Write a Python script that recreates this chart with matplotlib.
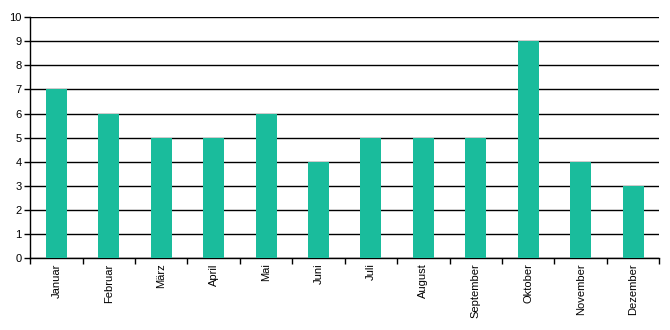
import numpy as np
import matplotlib.pyplot as plt

months = ['Januar', 'Februar', 'März', 'April', 'Mai', 'Juni', 'Juli',
          'August', 'September', 'Oktober', 'November', 'Dezember']
values = [7, 6, 5, 5, 6, 4, 5, 5, 5, 9, 4, 3]

plt.rcParams['font.family'] = ['Liberation Sans', 'DejaVu Sans']

fig = plt.figure(figsize=(6.7, 3.3), dpi=100)
ax = fig.add_axes([0.045, 0.218, 0.939, 0.730])

x = np.arange(len(months))
ax.bar(x, values, width=0.4, color='#1abc9c', zorder=3)

ax.set_xlim(-0.5, len(months) - 0.5)
ax.set_ylim(0, 10)
ax.set_yticks(range(0, 11))
ax.yaxis.grid(True, color='black', linewidth=1, zorder=1)

ax.set_xticks(x)
ax.set_xticklabels(months, rotation=90, fontsize=8)
ax.tick_params(axis='x', length=0, pad=4)
ax.set_xticks(np.arange(-0.5, len(months)), minor=True)
ax.tick_params(axis='x', which='minor', length=4, width=1, color='black')
ax.tick_params(axis='y', length=4, width=1, labelsize=8, pad=2)

for s in ['top', 'right']:
    ax.spines[s].set_visible(False)
for s in ['left', 'bottom']:
    ax.spines[s].set_linewidth(1)

fig.savefig('out.png', dpi=100)
